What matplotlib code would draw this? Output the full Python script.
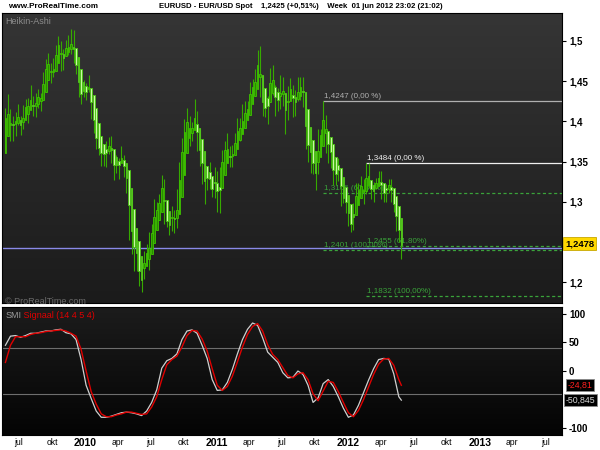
import numpy as np
import pandas as pd
import matplotlib
matplotlib.use("Agg")
import matplotlib.pyplot as plt
import matplotlib.dates as mdates
from matplotlib.colors import LinearSegmentedColormap
from matplotlib.ticker import FixedLocator, FixedFormatter

# weekly EURUSD bars, week of 25 May 2009 to week of 28 May 2012
weeks = pd.date_range("2009-05-25", periods=158, freq="7D")
open0 = 1.3995
ha_open0 = 1.360

close = [1.4155, 1.3960, 1.4040, 1.3970, 1.4095, 1.3960, 1.3945, 1.4120, 1.4220, 1.4255,
         1.4185, 1.4180, 1.4325, 1.4325, 1.4335, 1.4575, 1.4700, 1.4690, 1.4550, 1.4725,
         1.4900, 1.5000, 1.4730, 1.4860, 1.4920, 1.4890, 1.4960, 1.4740, 1.4610, 1.4340,
         1.4390, 1.4320,
         1.4410, 1.4375, 1.4145, 1.3865, 1.3635, 1.3635, 1.3610, 1.3630, 1.3630, 1.3760,
         1.3530, 1.3415, 1.3485, 1.3515, 1.3500, 1.3365, 1.3290, 1.2750, 1.2360, 1.2570,
         1.2270, 1.1965, 1.2110, 1.2390, 1.2365, 1.2575, 1.2645, 1.2945, 1.2910, 1.3045,
         1.3280, 1.2750, 1.2705, 1.2745, 1.2900, 1.2720, 1.3050, 1.3490, 1.3790, 1.3965,
         1.3975, 1.3960, 1.3940, 1.4025, 1.3680, 1.3670, 1.3235, 1.3400, 1.3225, 1.3235,
         1.3095, 1.3370,
         1.2910, 1.3380, 1.3615, 1.3630, 1.3580, 1.3530, 1.3690, 1.3750, 1.4000, 1.3905,
         1.4020, 1.4090, 1.4235, 1.4480, 1.4430, 1.4570, 1.4810, 1.4320, 1.4120, 1.4160,
         1.4310, 1.4640, 1.4360, 1.4340, 1.4190, 1.4500, 1.4260, 1.4160, 1.4380, 1.4390,
         1.4280, 1.4240, 1.4400, 1.4500, 1.4210, 1.3650, 1.3790, 1.3500, 1.3390, 1.3380,
         1.3880, 1.3890, 1.4150, 1.3780, 1.3750, 1.3520, 1.3240, 1.3390, 1.3380, 1.3040,
         1.3060, 1.2960,
         1.2720, 1.2680, 1.2930, 1.3210, 1.3160, 1.3200, 1.3140, 1.3450, 1.3200, 1.3130,
         1.3180, 1.3280, 1.3340, 1.3090, 1.3150, 1.3210, 1.3230, 1.3080, 1.2920, 1.2780,
         1.2520, 1.2425]
high = [1.4160, 1.4340, 1.4150, 1.4065, 1.4120, 1.4215, 1.4070, 1.4200, 1.4280, 1.4290,
        1.4445, 1.4310, 1.4350, 1.4395, 1.4350, 1.4610, 1.4770, 1.4845, 1.4720, 1.4780,
        1.4950, 1.5060, 1.5000, 1.4900, 1.5010, 1.5070, 1.5145, 1.5140, 1.4840, 1.4720,
        1.4420, 1.4510,
        1.4480, 1.4580, 1.4400, 1.4190, 1.4000, 1.3820, 1.3750, 1.3690, 1.3750, 1.3800,
        1.3820, 1.3600, 1.3580, 1.3550, 1.3695, 1.3580, 1.3440, 1.3290, 1.3095, 1.2670,
        1.2470, 1.2350, 1.2145, 1.2390, 1.2470, 1.2630, 1.2720, 1.3030, 1.3000, 1.3100,
        1.3335, 1.3280, 1.2890, 1.2790, 1.2950, 1.2900, 1.3160, 1.3500, 1.3790, 1.4030,
        1.4160, 1.4060, 1.3990, 1.4282, 1.4125, 1.3775, 1.3785, 1.3420, 1.3395, 1.3500,
        1.3230, 1.3430,
        1.3380, 1.3435, 1.3640, 1.3760, 1.3860, 1.3690, 1.3710, 1.3860, 1.4040, 1.4035,
        1.4220, 1.4250, 1.4250, 1.4490, 1.4520, 1.4650, 1.4880, 1.4940, 1.4460, 1.4350,
        1.4320, 1.4660, 1.4700, 1.4450, 1.4410, 1.4580, 1.4550, 1.4280, 1.4440, 1.4540,
        1.4450, 1.4390, 1.4550, 1.4550, 1.4550, 1.4260, 1.3880, 1.3820, 1.3670, 1.3500,
        1.3910, 1.3910, 1.4247, 1.4080, 1.3870, 1.3800, 1.3620, 1.3550, 1.3550, 1.3420,
        1.3120, 1.3100,
        1.3080, 1.2880, 1.2990, 1.3230, 1.3230, 1.3320, 1.3280, 1.3486, 1.3480, 1.3270,
        1.3250, 1.3290, 1.3385, 1.3380, 1.3200, 1.3220, 1.3280, 1.3285, 1.3040, 1.2930,
        1.2825, 1.2625]
low = [1.3835, 1.3930, 1.3750, 1.3755, 1.3820, 1.3960, 1.3830, 1.3900, 1.4080, 1.3980,
       1.4170, 1.4070, 1.4050, 1.4160, 1.4130, 1.4330, 1.4550, 1.4590, 1.4480, 1.4555,
       1.4720, 1.4850, 1.4630, 1.4640, 1.4830, 1.4825, 1.4830, 1.4730, 1.4585, 1.4300,
       1.4215, 1.4300,
       1.4260, 1.4360, 1.4025, 1.3860, 1.3650, 1.3580, 1.3445, 1.3445, 1.3435, 1.3590,
       1.3480, 1.3265, 1.3355, 1.3285, 1.3480, 1.3310, 1.3110, 1.2520, 1.2355, 1.2145,
       1.2140, 1.1960, 1.1875, 1.2045, 1.2240, 1.2150, 1.2520, 1.2620, 1.2715, 1.2880,
       1.3010, 1.2730, 1.2690, 1.2590, 1.2640, 1.2615, 1.2680, 1.3020, 1.3390, 1.3690,
       1.3850, 1.3695, 1.3760, 1.3905, 1.3630, 1.3450, 1.3225, 1.2970, 1.3150, 1.3155,
       1.3060, 1.3050,
       1.2870, 1.2860, 1.3320, 1.3590, 1.3540, 1.3430, 1.3430, 1.3630, 1.3710, 1.3750,
       1.3860, 1.4035, 1.4030, 1.4160, 1.4250, 1.4320, 1.4560, 1.4300, 1.4070, 1.4050,
       1.3970, 1.4280, 1.4330, 1.4060, 1.4130, 1.4150, 1.4190, 1.3840, 1.4020, 1.4270,
       1.4050, 1.4060, 1.4250, 1.4260, 1.4180, 1.3650, 1.3500, 1.3360, 1.3350, 1.3145,
       1.3350, 1.3650, 1.3800, 1.3610, 1.3480, 1.3420, 1.3210, 1.3210, 1.3260, 1.2950,
       1.2990, 1.2860,
       1.2700, 1.2624, 1.2650, 1.2940, 1.2980, 1.3090, 1.2975, 1.3100, 1.3170, 1.3030,
       1.3000, 1.3160, 1.3200, 1.3030, 1.2995, 1.3000, 1.3110, 1.3000, 1.2875, 1.2640,
       1.2495, 1.2288]

# SMI and its signal line, read every second week (plus the last week)
smi_weeks = list(range(0, 157, 2)) + [157]
smi = [45, 61, 62, 59, 62, 66, 66, 68, 70, 70, 72, 73, 67, 65, 55, 20, -25, -48, -70, -81,
       -81, -79, -76, -73, -72, -73, -75, -78, -70, -55, -33, 5, 18, 22, 30, 55, 70, 72, 66, 45,
       22, -15, -34, -33, -20, 3, 30, 55, 73, 84, 80, 58, 33, 24, 15, -3, -12, -11, 0, -6,
       -25, -55, -47, -22, -15, -27, -45, -65, -81, -77, -60, -38, -16, 4, 20, 22, 21, -5, -45, -51]
signal = [15, 45, 60, 60, 60, 64, 66, 67, 69, 70, 71, 72, 70, 66, 61, 38, 0, -36, -58, -75,
          -80, -80, -77, -75, -72, -72, -74, -76, -75, -63, -45, -15, 11, 20, 26, 42, 62, 71, 70, 56,
          35, 4, -25, -34, -27, -9, 16, 42, 64, 78, 83, 70, 46, 29, 20, 6, -8, -12, -5, -3,
          -15, -40, -52, -35, -18, -20, -36, -55, -73, -80, -69, -50, -28, -6, 12, 21, 22, 10, -15, -25]

# fibonacci levels: (price, label, start week, colour, dashed)
fib_levels = [
    (1.4247, "1,4247 (0,00 %)", 126, "#b0b0b0", False),
    (1.3106, "1,3106 (61,80%)", 126, "#3aa33a", True),
    (1.2401, "1,2401 (100,00%)", 126, "#3aa33a", True),
    (1.3484, "1,3484 (0,00 %)", 143, "#f0f0f0", False),
    (1.2455, "1,2455 (61,80%)", 143, "#3aa33a", True),
    (1.1832, "1,1832 (100,00%)", 143, "#3aa33a", True),
]
last_price = 1.2425

plt.rcParams["font.family"] = "Liberation Sans"

# heikin-ashi
o_raw = np.r_[open0, close[:-1]]
c_raw = np.array(close)
h_raw = np.array(high)
l_raw = np.array(low)
ha_close = (o_raw + h_raw + l_raw + c_raw) / 4
ha_open = np.empty_like(ha_close)
ha_open[0] = ha_open0
for i in range(1, len(ha_close)):
    ha_open[i] = (ha_open[i - 1] + ha_close[i - 1]) / 2
ha_high = np.maximum.reduce([h_raw, ha_open, ha_close])
ha_low = np.minimum.reduce([l_raw, ha_open, ha_close])

x = mdates.date2num(weeks)
x0 = mdates.date2num(pd.Timestamp("2010-01-01")) - 230.5
x1 = mdates.date2num(pd.Timestamp("2012-01-01")) + 594

fig = plt.figure(figsize=(6, 4.5), dpi=100)
fig.patch.set_facecolor("white")
ax = fig.add_axes([2 / 600, 147 / 450, 560 / 600, 290 / 450])
ax2 = fig.add_axes([2 / 600, 15 / 450, 560 / 600, 128 / 450], sharex=ax)

y0, y1 = 1.1743, 1.5345
ax.set_xlim(x0, x1)
ax.set_ylim(y0, y1)
ax2.set_ylim(-112, 112)

grad = np.linspace(0, 1, 256).reshape(-1, 1)
cm_top = LinearSegmentedColormap.from_list("g1", ["#1b1b1b", "#353535"])
cm_bot = LinearSegmentedColormap.from_list("g2", ["#040404", "#1c1c1c"])
ax.imshow(grad, aspect="auto", cmap=cm_top, origin="lower", extent=[x0, x1, y0, y1], zorder=0)
ax2.imshow(grad, aspect="auto", cmap=cm_bot, origin="lower", extent=[x0, x1, -112, 112], zorder=0)

# fib lines and labels (behind candles)
for price, label, wk, col, dashed in fib_levels:
    xs = x[wk]
    ax.hlines(price, xs, x1, colors=col, lw=0.9, linestyles=(0, (2.5, 2)) if dashed else "solid", zorder=1)
    ax.text(xs + 2, price + 0.0012, label, color=col, fontsize=5.8,
            ha="left", va="bottom", zorder=1)

ax.axhline(last_price, color="#8a8ae8", lw=1, zorder=1.5)

# candles
up = ha_close >= ha_open
body_lo = np.minimum(ha_open, ha_close)
body_h = np.maximum(np.abs(ha_close - ha_open), 0.0012)
fills = np.where(up, "#2a8c00", "#c9f7a4")
edges = np.where(up, "#3fc400", "#48c410")
ax.vlines(x, ha_low, ha_high, colors="#36aa00", lw=0.8, zorder=2)
ax.bar(x, body_h, bottom=body_lo, width=4.6, color=fills, edgecolor=edges, linewidth=0.6, zorder=3)

ax.text(0.006, 0.985, "Heikin-Ashi", transform=ax.transAxes, color="#8c8c8c", fontsize=6.5,
        ha="left", va="top")
ax.text(0.006, -0.012, "\u00a9 ProRealTime.com", transform=ax.transAxes, color="#6a6a6a",
        fontsize=6.5, ha="left", va="bottom")

# SMI panel
xs_smi = x[smi_weeks]
ax2.axhline(40, color="#6e6e6e", lw=0.8, zorder=1)
ax2.axhline(-40, color="#6e6e6e", lw=0.8, zorder=1)
ax2.plot(xs_smi, smi, color="#cfcfcf", lw=0.9, zorder=2)
ax2.plot(xs_smi, signal, color="#e00000", lw=1.0, zorder=3)
t = ax2.text(0.006, 0.965, "SMI", transform=ax2.transAxes, color="#9a9a9a", fontsize=6.5,
             ha="left", va="top")
ax2.annotate(" Signaal (14 4 5 4)", xy=(1, 0), xycoords=t, va="bottom", ha="left",
             color="#e00000", fontsize=6.5)

# right value axes
price_ticks = [1.2, 1.3, 1.35, 1.4, 1.45, 1.5]
ax.yaxis.set_major_locator(FixedLocator(price_ticks))
ax.yaxis.set_major_formatter(FixedFormatter([f"{p:g}".replace(".", ",") for p in price_ticks]))
smi_ticks = [-100, 0, 50, 100]
ax2.yaxis.set_major_locator(FixedLocator(smi_ticks))
ax2.yaxis.set_major_formatter(FixedFormatter([str(v) for v in smi_ticks]))
for a in (ax, ax2):
    a.yaxis.tick_right()
    for s in a.spines.values():
        s.set_color("black")
        s.set_linewidth(0.8)
    a.tick_params(axis="y", length=3, width=0.8, pad=2)
    for lab in a.get_yticklabels():
        lab.set_fontweight("bold")
        lab.set_fontsize(7)

ax.text(1.006, (1.2478 - y0) / (y1 - y0), "1,2478", transform=ax.transAxes, fontsize=6.8,
        fontweight="bold", color="black", ha="left", va="center", clip_on=False,
        bbox=dict(boxstyle="square,pad=0.2", fc="#ffd800", ec="#c8a800", lw=0.6))
ax2.text(1.01, (-24.81 + 112) / 224, "-24,81", transform=ax2.transAxes, fontsize=6.3,
         color="#ff2020", ha="left", va="center", clip_on=False,
         bbox=dict(boxstyle="square,pad=0.2", fc="black", ec="#8a8a8a", lw=0.6))
ax2.text(1.006, (-50.845 + 112) / 224, "-50,845", transform=ax2.transAxes, fontsize=6.3,
         color="#d8d8d8", ha="left", va="center", clip_on=False,
         bbox=dict(boxstyle="square,pad=0.2", fc="black", ec="#8a8a8a", lw=0.6))

# time axis
month_names = {4: "apr", 7: "jul", 10: "okt"}
tick_dates = pd.date_range("2009-07-01", "2013-07-01", freq="QS")
ax2.xaxis.set_major_locator(FixedLocator(mdates.date2num(tick_dates)))
ax2.xaxis.set_major_formatter(FixedFormatter(
    [str(d.year) if d.month == 1 else month_names[d.month] for d in tick_dates]))
ax2.tick_params(axis="x", length=0, pad=2)
for d, lab in zip(tick_dates, ax2.get_xticklabels()):
    if d.month == 1:
        lab.set_fontsize(7.5)
        lab.set_fontweight("bold")
    else:
        lab.set_fontsize(6.2)
ax.tick_params(axis="x", labelbottom=False, length=0)

fig.text(8 / 600, 1 - 6 / 450, "www.ProRealTime.com", fontsize=5.9, fontweight="bold",
         ha="left", va="center")
fig.text(443 / 600, 1 - 6 / 450,
         "EURUSD - EUR/USD Spot    1,2425 (+0,51%)    Week  01 jun 2012 23:02 (21:02)",
         fontsize=5.6, fontweight="bold", ha="right", va="center")

fig.savefig("out.png", dpi=100)
